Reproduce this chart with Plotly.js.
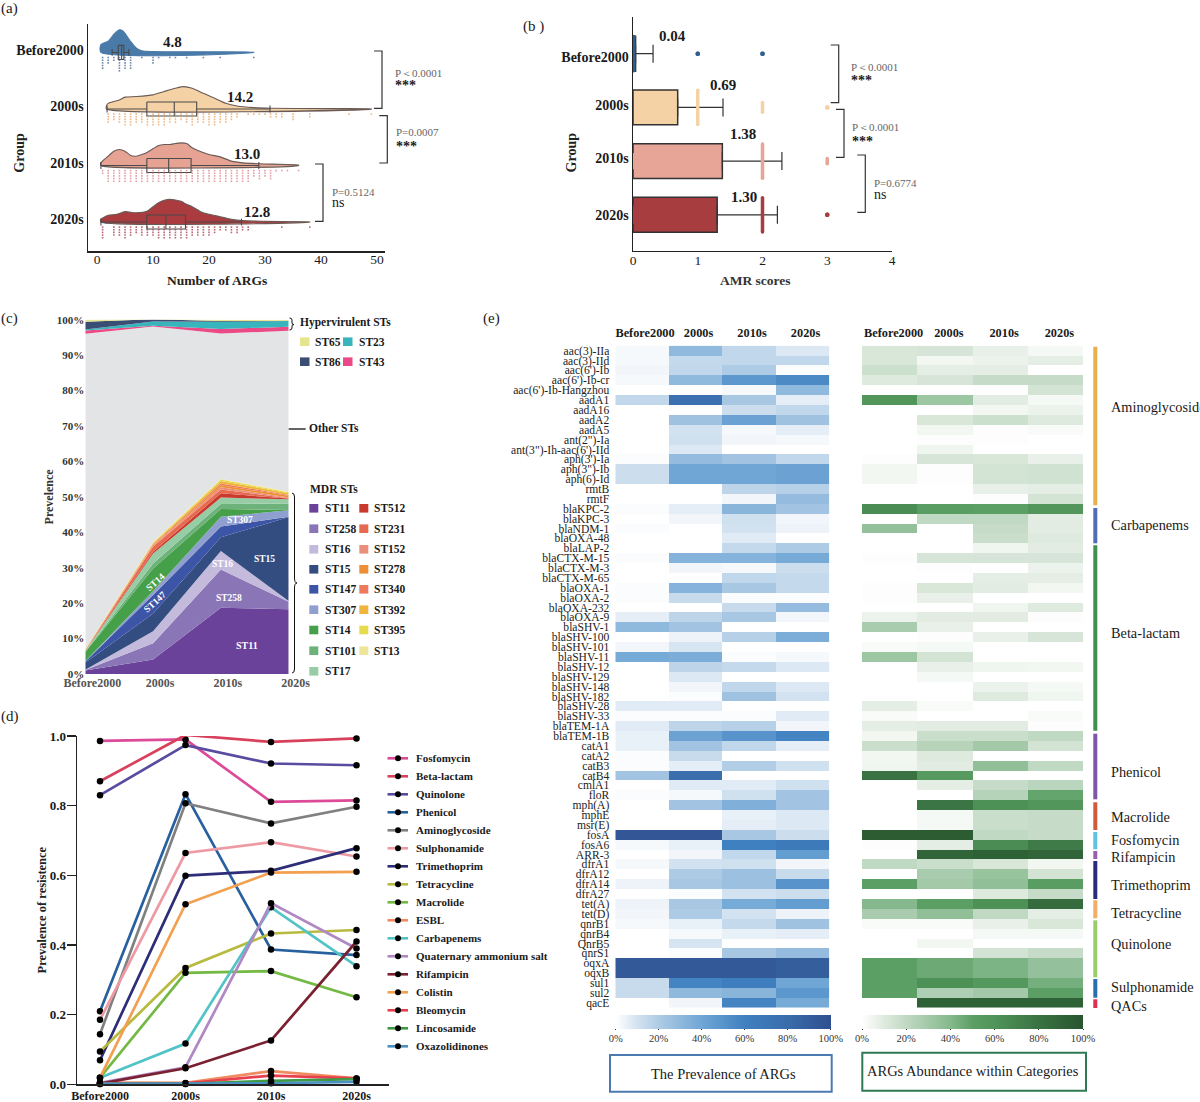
<![CDATA[<!DOCTYPE html>
<html><head><meta charset="utf-8">
<script src="https://cdn.plot.ly/plotly-3.0.1.min.js"></script>
<style>html,body{margin:0;padding:0;background:#fff}</style></head>
<body><div id="chart" style="width:1200px;height:1102px"></div>
<script>
const SERIF = '"Liberation Serif","Times New Roman",serif';
const groups = ['Before2000','2000s','2010s','2020s'];
const groupColors = ['#4a7aa8','#f5d2a6','#e6a393','#aa3b3e'];
const dotColors = ['#3d5f92','#e8a05a','#d9808a','#a5344a'];

// Panel a: density curves
const densX0 = [0.7,2,3,4,4.5,5,6,7,8,10,15,28];
const densH0 = [.14,.2,.32,.40,.39,.34,.195,.08,.03,.015,.012,.005];
const densX1 = [1.7,2,4,5,7,10,12,14,15.5,17,19,21,23,25,28,31,40,49];
const densH1 = [.06,.1,.16,.21,.22,.25,.31,.366,.395,.366,.277,.189,.1,.053,.024,.012,.006,.002];
const densX2 = [0.7,2,3,4,5,6,7,8,9,10,11,12,13,14,15,16,17,18,20,22,24,26,29,36];
const densH2 = [.047,.165,.254,.283,.254,.177,.165,.195,.236,.295,.354,.372,.372,.389,.401,.389,.313,.265,.195,.153,.077,.047,.03,.006];
const densX3 = [0.7,2,3.5,5,7,9,10,11,12,13,14,15,16,17,18.5,20,22,24,26,30,38];
const densH3 = [.047,.118,.136,.183,.165,.195,.271,.342,.384,.401,.389,.366,.313,.271,.183,.136,.094,.047,.024,.012,.002];
// Panel a: box summaries
const boxQ1 = [3.8,8.9,8.9,8.9];
const boxMed = [4.4,13.8,12.8,12.3];
const boxQ3 = [4.8,17.8,16.8,15.8];
const boxLow = [2.7,1.8,0.7,0.7];
const boxHigh = [5.7,30.9,28.9,25.8];
const meanA = ['4.8','14.2','13.0','12.8'];
// Panel a: strip of samples (ARG count, stacked points)
const stripX0 = [1,2,3,4,5,6,8,10,11,13,14,16,19,22,28];
const stripN0 = [5,3,2,6,5,5,1,3,1,1,1,1,1,1,1];
const stripX1 = [2,3,4,5,6,7,8,9,10,11,12,13,14,15,16,17,18,19,20,21,22,23,24,25,27,28,29,30,31,32,33,35,38,45,49];
const stripN1 = [4,3,4,5,5,4,4,5,5,5,5,4,4,3,4,5,4,4,5,5,4,4,3,2,1,1,1,1,2,2,2,3,2,1,1];
const stripX2 = [1,2,3,4,5,6,7,8,9,10,11,12,13,14,15,16,17,18,19,20,21,22,23,24,25,26,27,28,29,30,31,32,33,34,36];
const stripN2 = [2,5,5,5,5,5,5,5,5,5,5,5,5,5,5,5,5,5,5,5,5,5,5,5,5,5,5,3,4,3,4,1,1,1,1];
const stripX3 = [1,3,4,5,6,7,8,9,10,11,12,13,14,15,16,17,18,19,20,21,22,23,24,25,26,27,33,38];
const stripN3 = [5,4,4,5,4,3,4,4,4,5,5,5,5,5,5,4,4,4,4,3,2,2,3,3,2,2,1,1];

// Panel b
const amrMeans = [0.04,0.69,1.38,1.30];
const amrErr = [0.27,0.70,0.92,0.93];
const amrBarColors = ['#2f5f8c','#f5d2a6','#e6a597','#a83d40'];
const outX = [0.01, 1, 2, 1, 2, 3, 2, 3, 2, 3, -0.01, -0.01];
const outGroup = [0, 0, 0, 1, 1, 1, 2, 2, 3, 3, 2, 3];
const outHalf = [.32, 0, 0, .32, .09, 0, .32, .05, .32, 0, .15, .17];

// Panel c
const stNames = ['ST11','ST258','ST16','ST15','ST147','ST307','ST14','ST101','ST17','ST512','ST231','ST152','ST278','ST340','ST392','ST395','ST13','Other STs','ST43','ST23','ST86','ST65'];
const stColors = ['#6a4299','#8a75b6','#c4bbdc','#344d80','#3d55a6','#8f9fcf','#46a04a','#6db27a','#97cda4','#c9392e','#e66a4f','#ea8f7b','#ef8f35','#ec7a5f','#f0b53c','#e6db4d','#eee59a','#e3e4e6','#ec4a86','#38b5bc','#3a4d75','#e6e58f'];
const stValues = [
 [1.0,4.1,18.7,18.3],[0.1,4.6,10.8,2.1],[0.1,3.4,5.2,0.2],[2.0,5.0,3.9,23.7],[0.3,5.2,3.0,0.1],
 [0.1,1.1,2.8,1.8],[2.6,6.4,2.2,0.1],[0.1,1.4,1.4,1.8],[0.2,2.8,1.8,1.2],[0.05,0.5,1.2,0.2],
 [0.1,1.5,1.1,0.1],[0.05,0.3,0.6,0.2],[0.05,0.2,0.6,0.5],[0.05,0.2,0.5,0.2],[0.05,0.2,0.7,0.5],
 [0.05,0.2,0.4,0.3],[0.1,0.2,0.2,0.2],[89.05,60.8,41.0,45.4],[0.9,0.2,1.3,1.1],[0.3,1.2,2.0,1.6],[2.2,0.6,0.2,0.1],[0.6,0.2,0.4,0.3]];

// Panel d
const drugNames = ['Fosfomycin','Beta-lactam','Quinolone','Phenicol','Aminoglycoside','Sulphonamide','Trimethoprim','Tetracycline','Macrolide','ESBL','Carbapenems','Quaternary ammonium salt','Rifampicin','Colistin','Bleomycin','Lincosamide','Oxazolidinones'];
const drugColors = ['#dc4a98','#d8405c','#5a4ba0','#27609f','#808080','#ee9aa5','#2d2d78','#b8bb3f','#74b944','#f08a60','#52c3c6','#b088c4','#7a2030','#f2a050','#e8404f','#3f9a45','#4a90c0'];
const drugValues = [
 [.986,.99,.811,.815],[.87,1.003,.983,.993],[.83,.974,.921,.916],[.21,.833,.387,.371],[.144,.807,.749,.797],
 [.185,.664,.695,.654],[.069,.599,.613,.678],[.094,.334,.433,.443],[.019,.32,.325,.25],[.005,.004,.038,.017],
 [.019,.117,.508,.339],[.004,.049,.52,.39],[.002,.046,.126,.41],[.019,.517,.608,.61],[.003,.003,.025,.017],
 [.001,.001,.01,.015],[.001,.001,.003,.007]];

// Panel e
const genes = ["aac(3)-IIa","aac(3)-IId","aac(6')-Ib","aac(6')-Ib-cr","aac(6')-Ib-Hangzhou","aadA1","aadA16","aadA2","aadA5","ant(2\")-Ia","ant(3\")-Ih-aac(6')-IId","aph(3')-Ia","aph(3\")-Ib","aph(6)-Id","rmtB","rmtF","blaKPC-2","blaKPC-3","blaNDM-1","blaOXA-48","blaLAP-2","blaCTX-M-15","blaCTX-M-3","blaCTX-M-65","blaOXA-1","blaOXA-2","blaOXA-232","blaOXA-9","blaSHV-1","blaSHV-100","blaSHV-101","blaSHV-11","blaSHV-12","blaSHV-129","blaSHV-148","blaSHV-182","blaSHV-28","blaSHV-33","blaTEM-1A","blaTEM-1B","catA1","catA2","catB3","catB4","cmlA1","floR","mph(A)","mphE","msr(E)","fosA","fosA6","ARR-3","dfrA1","dfrA12","dfrA14","dfrA27","tet(A)","tet(D)","qnrB1","qnrB4","QnrB5","qnrS1","oqxA","oqxB","sul1","sul2","qacE"];
const prevalence = [[2,30,15,8],[2,14,15,15],[3,15,20,1],[2,30,48,55],[0,0,2,30],[15,75,22,6],[0,0,12,15],[0,25,42,25],[0,10,2,6],[0,11,3,2],[0,8,0,0],[1,28,24,15],[12,40,40,42],[12,40,40,42],[0,0,16,18],[0,0,3,28],[1,6,32,24],[0,3,11,3],[1,0,10,4],[0,0,7,0],[0,0,14,20],[1,33,33,38],[0,3,2,12],[0,0,15,14],[1,33,22,14],[1,13,1,1],[0,0,13,28],[6,16,22,3],[30,24,0,0],[0,4,18,36],[3,9,0,0],[38,36,1,2],[0,16,14,8],[0,8,0,0],[0,3,15,8],[0,1,25,10],[7,7,0,0],[1,1,1,7],[7,16,18,3],[5,42,50,58],[5,24,15,6],[1,13,0,0],[1,6,19,11],[24,78,0,0],[0,7,7,11],[1,2,11,24],[0,24,35,24],[0,0,5,8],[0,0,6,8],[95,95,22,12],[2,5,60,66],[0,3,15,45],[2,10,11,3],[0,20,26,13],[4,22,26,50],[0,1,10,12],[4,22,38,45],[3,20,10,4],[2,5,14,25],[0,2,5,6],[0,9,0,0],[0,1,22,28],[93,93,93,90],[93,93,93,90],[13,58,62,40],[13,30,32,48],[0,3,58,38]];
const abundance = [[12,13,7,3],[12,4,6,8],[16,8,8,0],[10,13,18,18],[0,0,1,14],[58,32,9,3],[0,0,4,6],[0,12,16,10],[0,4,1,2],[0,1,1,0],[0,5,0,0],[1,13,12,7],[4,1,14,15],[4,1,14,15],[0,0,7,8],[0,0,1,14],[65,52,50,58],[0,20,20,9],[35,0,18,9],[0,0,17,10],[0,0,5,9],[1,13,13,13],[0,1,0,6],[0,0,8,8],[1,12,9,4],[1,7,0,0],[0,0,5,10],[6,9,9,1],[28,7,0,0],[0,1,7,13],[2,3,0,0],[32,14,0,0],[0,7,5,4],[0,3,0,0],[0,0,6,3],[0,0,10,5],[8,2,0,0],[2,0,0,2],[8,9,9,1],[4,17,17,20],[17,23,30,14],[4,10,0,0],[5,9,36,20],[80,55,0,0],[0,8,18,22],[0,0,24,48],[0,78,62,58],[0,3,17,18],[0,3,17,18],[95,95,20,18],[1,8,65,75],[0,90,92,90],[20,17,12,4],[0,28,34,14],[50,30,36,52],[0,0,10,18],[40,50,62,85],[28,36,20,8],[2,2,7,12],[0,0,3,3],[0,4,0,0],[0,0,14,18],[50,46,42,35],[50,46,42,35],[50,62,56,44],[50,26,30,50],[0,92,92,92]];
const blueScale = [[0,'#ffffff'],[.1,'#d3e2f0'],[.2,'#aecbe5'],[.4,'#70a6d5'],[.6,'#3f80c0'],[.8,'#3a6cab'],[1,'#2f4f8f']];
const greenScale = [[0,'#ffffff'],[.1,'#dfeadf'],[.2,'#c0d9c3'],[.4,'#85b98d'],[.5,'#5c9f65'],[.6,'#4f9458'],[.8,'#3a7243'],[1,'#28552e']];
const catNames = ['Aminoglycoside','Carbapenems','Beta-lactam','Phenicol','Macrolide','Fosfomycin','Rifampicin','Trimethoprim','Tetracycline','Quinolone','Sulphonamide','QACs'];
const catColors = ['#e8b04a','#4f6db8','#3f8f4f','#7e57a8','#d15a3a','#5cc3e0','#9a5fb0','#2b2d7c','#f2ad66','#9ccb6a','#2a6fb0','#e0304f'];
const catTop = [346.7,508,545.3,733.7,802.3,832,851,861,900.3,920.3,979,999.3];
const catBottom = [505.3,543.3,730.7,799.3,830,849.3,859,899,918.3,977.3,997.7,1008];
const catLabelY = [406.7,525,633.3,771.7,816.7,840,856.7,885,913.3,944,987.3,1005.7];

const W=1200,H=1102;
const X=p=>p/W, Y=p=>1-p/H;
const shapes=[],annotations=[];
function txt(x,y,text,o={}){const anchor=o.anchor||'left';annotations.push({xref:'paper',yref:'paper',x:X(anchor==='left'?x-1.5:x),y:Y(y),text,showarrow:false,
  xanchor:anchor,yanchor:'middle',textangle:o.angle||0,borderpad:0,
  font:{family:SERIF,size:o.size||12,color:o.color||'#1a1a1a'}});}
function b(t){return '<b>'+t+'</b>';}
function poly(points,color,w){shapes.push({type:'path',xref:'paper',yref:'paper',
  path:'M'+points.map(p=>X(p[0])+','+Y(p[1])).join(' L'),line:{color,width:w||1.2},fillcolor:'rgba(0,0,0,0)'});}
function rawPath(tokens,color,w){shapes.push({type:'path',xref:'paper',yref:'paper',
  path:tokens.map(t=>typeof t==='string'?t:X(t[0])+','+Y(t[1])).join(' '),line:{color,width:w||1},fillcolor:'rgba(0,0,0,0)'});}
function rect(x0,y0,x1,y1,fill,lc,lw){shapes.push({type:'rect',xref:'paper',yref:'paper',x0:X(x0),x1:X(x1),y0:Y(y0),y1:Y(y1),
  fillcolor:fill,line:{color:lc||'rgba(0,0,0,0)',width:lw||0}});}
function bracket(x0,x1,y0,y1){poly([[x0,y0],[x1,y0],[x1,y1],[x0,y1]],'#333',1.2);}

const traces=[];
const axisLine={showline:true,linecolor:'#222',linewidth:1.5,zeroline:false,showgrid:false};
const tickBold=s=>({family:SERIF,size:s,color:'#1a1a1a'});

// ---------- Panel a
const dX=[densX0,densX1,densX2,densX3], dH=[densH0,densH1,densH2,densH3];
const sX=[stripX0,stripX1,stripX2,stripX3], sN=[stripN0,stripN1,stripN2,stripN3];
groups.forEach((g,i)=>{
  const xs=[dX[i][0],...dX[i],dX[i][dX[i].length-1],dX[i][0]];
  const ys=[i,...dH[i].map(h=>i-h),i,i];
  traces.push({type:'scatter',mode:'lines',x:xs,y:ys,xaxis:'x',yaxis:'y',fill:'toself',fillcolor:groupColors[i],
    line:{color:i==0?'#4a7aa8':'#6a5a55',width:1.1,shape:'spline',smoothing:.7},hoverinfo:'skip',showlegend:false});
  const hw=.125,cap=.06;
  const bx=[boxQ1[i],boxQ3[i],boxQ3[i],boxQ1[i],boxQ1[i],null,boxMed[i],boxMed[i],null,boxLow[i],boxQ1[i],null,boxQ3[i],boxHigh[i],null,boxLow[i],boxLow[i],null,boxHigh[i],boxHigh[i]];
  const by=[i-hw,i-hw,i+hw,i+hw,i-hw,null,i-hw,i+hw,null,i,i,null,i,i,null,i-cap,i+cap,null,i-cap,i+cap];
  traces.push({type:'scatter',mode:'lines',x:bx,y:by,xaxis:'x',yaxis:'y',line:{color:'#4a4a4a',width:1.1},hoverinfo:'skip',showlegend:false});
  const px=[],py=[];
  sX[i].forEach((x,k)=>{for(let r=0;r<sN[i][k];r++){px.push(x);py.push(i+.09+r*.047);}});
  traces.push({type:'scatter',mode:'markers',x:px,y:py,xaxis:'x',yaxis:'y',marker:{symbol:'square',size:1.6,color:dotColors[i],opacity:.75},hoverinfo:'skip',showlegend:false});
});
const meanAPos=[[172.7,42.3],[240,96.7],[247,154],[256.7,212]];
meanA.forEach((t,i)=>txt(meanAPos[i][0],meanAPos[i][1],b(t),{anchor:'center',size:15}));
bracket(374,382,51,108.3); txt(395,72.7,'P＜0.0001',{size:11,color:'#666'}); txt(395,86,b('***'),{size:14});
bracket(379.3,387.3,115.7,163); txt(396,132,'P=0.0007',{size:11,color:'#666'}); txt(396,147,b('***'),{size:14});
bracket(315,323,164,221.3); txt(332,192.3,'P=0.5124',{size:11,color:'#666'}); txt(332,202.7,'ns',{size:14});
txt(217,280.7,b('Number of ARGs'),{anchor:'center',size:13.5,color:'#222'});
txt(20,152.7,b('Group'),{anchor:'center',size:14,color:'#222',angle:-90});

// ---------- Panel b
traces.push({type:'bar',orientation:'h',x:amrMeans,y:[0,1,2,3],xaxis:'x2',yaxis:'y2',width:.65,
  marker:{color:amrBarColors,line:{color:'#333',width:1.5}},
  error_x:{type:'data',symmetric:false,array:amrErr,arrayminus:[0,0,0,0],color:'#333',thickness:1.2,width:9},
  hoverinfo:'skip',showlegend:false});
outX.forEach((x,k)=>{
  const g=outGroup[k];
  traces.push({type:'scatter',mode:'lines+markers',x:[x,x],y:[g-outHalf[k],g+outHalf[k]],xaxis:'x2',yaxis:'y2',
    line:{color:amrBarColors[g],width:3.5},marker:{color:amrBarColors[g],size:outHalf[k]?3.5:4.5},hoverinfo:'skip',showlegend:false,cliponaxis:false});
});
const meanBPos=[[672.3,36],[723.3,85],[743.3,134],[744.3,196.7]];
amrMeans.forEach((v,i)=>txt(meanBPos[i][0],meanBPos[i][1],b(v.toFixed(2)),{anchor:'center',size:15}));
bracket(830.7,838.7,45,102.7); txt(851.7,66.7,'P＜0.0001',{size:11,color:'#666'}); txt(851.7,80.5,b('***'),{size:14});
bracket(836,844,109.3,157.3); txt(852.7,126.7,'P＜0.0001',{size:11,color:'#666'}); txt(852.7,141.5,b('***'),{size:14});
bracket(857.3,865.3,155,212.3); txt(874,182.7,'P=0.6774',{size:11,color:'#666'}); txt(874,194,'ns',{size:14});
txt(755,280.7,b('AMR scores'),{anchor:'center',size:13.5,color:'#333'});
txt(571.7,152.7,b('Group'),{anchor:'center',size:14,color:'#222',angle:-90});

// ---------- Panel c
stNames.forEach((n,i)=>traces.push({type:'scatter',mode:'none',x:groups,y:stValues[i],xaxis:'x3',yaxis:'y3',stackgroup:'st',
  fillcolor:stColors[i],name:n,hoverinfo:'skip',showlegend:false}));
const inC=[['ST11',246.7,645,0,10],['ST258',229,597.7,0,9.5],['ST16',222.7,564.3,0,9.5],['ST15',264,559.3,0,9.5],['ST307',240,520.3,0,9.5],['ST147',155,602,-42,9.5],['ST14',155.7,582.3,-42,9.5]];
inC.forEach(a=>txt(a[1],a[2],b(a[0]),{anchor:'center',size:a[4],color:'#ffffff',angle:a[3]}));
txt(300.7,322,b('Hypervirulent STs'),{size:11.5});
const hvCols=[[300,315],[343,359]];
[['ST65',0,341.7],['ST23',1,341.7],['ST86',0,361.7],['ST43',1,361.7]].forEach(e=>{
  const col=hvCols[e[1]];
  rect(col[0],e[2]-4.3,col[0]+9.5,e[2]+4.3,stColors[stNames.indexOf(e[0])]);
  txt(col[1],e[2],b(e[0]),{size:11.5});
});
poly([[288.7,429],[305.7,429]],'#111',1.3); txt(309,428,b('Other STs'),{size:11.5});
txt(310.7,489,b('MDR STs'),{size:11.5});
const mdrL=['ST11','ST258','ST16','ST15','ST147','ST307','ST14','ST101','ST17'];
const mdrR=['ST512','ST231','ST152','ST278','ST340','ST392','ST395','ST13'];
const mdrRowY=[508.3,528.7,549.3,569.3,589.3,609.7,630,650.7,671.3];
mdrL.forEach((n,i)=>{rect(309.3,mdrRowY[i]-4.3,318.3,mdrRowY[i]+4.3,stColors[stNames.indexOf(n)]);txt(325,mdrRowY[i],b(n),{size:11.5});});
mdrR.forEach((n,i)=>{rect(359.3,mdrRowY[i]-4.3,368.3,mdrRowY[i]+4.3,stColors[stNames.indexOf(n)]);txt(374,mdrRowY[i],b(n),{size:11.5});});
rawPath(['M',[292,493],'Q',[294.5,493],[294.5,497],'L',[294.5,578],'Q',[294.5,583],[297,583],'Q',[294.5,583],[294.5,588],'L',[294.5,669],'Q',[294.5,673],[292,673]],'#111',1);
rawPath(['M',[289.5,318],'Q',[292,318],[292,320],'L',[292,323],'Q',[292,324.5],[294,324.5],'Q',[292,324.5],[292,326],'L',[292,328],'Q',[292,330],[289.5,330]],'#111',1);

// ---------- Panel d
drugNames.forEach((n,i)=>traces.push({type:'scatter',mode:'lines+markers',x:[0,1,2,3],y:drugValues[i],xaxis:'x4',yaxis:'y4',name:n,
  line:{color:drugColors[i],width:2.7},marker:{color:'#000',size:6.5},cliponaxis:false,hoverinfo:'skip',showlegend:false}));
drugNames.forEach((n,i)=>{
  const y=758.3+i*18;
  poly([[387.5,y],[408,y]],drugColors[i],2.6);
  shapes.push({type:'circle',xref:'paper',yref:'paper',x0:X(395),x1:X(401),y0:Y(y-3),y1:Y(y+3),fillcolor:'#000',line:{width:0}});
  txt(416,y,b(n),{size:11});
});

// ---------- Panel e
const hmCommon={x:groups,y:genes,zmin:0,zmax:100,xgap:0,ygap:0,hoverinfo:'skip'};
const cbCommon={orientation:'h',lenmode:'pixels',len:215,thicknessmode:'pixels',thickness:14,xanchor:'left',yanchor:'top',xpad:0,ypad:0,outlinewidth:0,
  tickvals:[0,20,40,60,80,100],ticktext:['0%','20%','40%','60%','80%','100%'],ticks:'outside',ticklen:1,tickcolor:'#333',tickfont:{family:SERIF,size:10.5,color:'#333'}};
traces.push({type:'heatmap',...hmCommon,z:prevalence,xaxis:'x5',yaxis:'y5',colorscale:blueScale,
  colorbar:{...cbCommon,x:X(615.7),y:Y(1014.5)}});
traces.push({type:'heatmap',...hmCommon,z:abundance,xaxis:'x6',yaxis:'y6',colorscale:greenScale,
  colorbar:{...cbCommon,len:221,x:X(862),y:Y(1014.5)}});
catNames.forEach((n,i)=>{rect(1093.3,catTop[i],1097.3,catBottom[i],catColors[i]);txt(1111.7,catLabelY[i],n,{size:14.3});});
rect(610,1055,831.7,1091.7,'rgba(0,0,0,0)','#4a7ab0',2);
txt(723,1074,'The Prevalence of ARGs',{anchor:'center',size:14.5});
rect(862.3,1052.7,1086,1090.7,'rgba(0,0,0,0)','#2f7a55',2);
txt(973,1070.7,'ARGs Abundance within Categories',{anchor:'center',size:14.5});

// panel letters
txt(1,8,'(a)',{size:15}); txt(523,26,'(b )',{size:15}); txt(1,318,'(c)',{size:15}); txt(1,716,'(d)',{size:15}); txt(483,318,'(e)',{size:15});

const dom=(a,b,s)=>s==='x'?[a/W,b/W]:[1-b/H,1-a/H];
const layout={width:W,height:H,margin:{l:0,r:0,t:0,b:0},autosize:false,paper_bgcolor:'#fff',plot_bgcolor:'rgba(0,0,0,0)',showlegend:false,
  shapes,annotations,barmode:'overlay',
  xaxis:{...axisLine,domain:dom(88,385,'x'),range:[-1.607,51.43],anchor:'y',tickmode:'array',tickvals:[0,10,20,30,40,50],ticks:'',tickfont:tickBold(13.5),ticklabelstandoff:-5},
  yaxis:{...axisLine,domain:dom(24,251,'y'),range:[3.513,-0.504],anchor:'x',tickmode:'array',tickvals:[-.05,.95,1.95,2.95],ticktext:groups.map(b),ticks:'',tickfont:tickBold(14)},
  xaxis2:{...axisLine,domain:dom(633,892,'x'),range:[0,4],anchor:'y2',tickmode:'array',tickvals:[0,1,2,3,4],ticks:'',tickfont:tickBold(13.5),ticklabelstandoff:-3},
  yaxis2:{...axisLine,domain:dom(17,250.7,'y'),range:[3.668,-0.683],anchor:'x2',tickmode:'array',tickvals:[.067,.955,1.937,3.01],ticktext:groups.map(b),ticks:'',tickfont:tickBold(14)},
  xaxis3:{domain:dom(85.3,288.7,'x'),type:'category',categoryorder:'array',categoryarray:groups,range:[0,3],anchor:'y3',showline:false,showgrid:false,zeroline:false,ticks:'',
    tickmode:'array',tickvals:groups,ticktext:groups.map(b),tickfont:{family:SERIF,size:12,color:'#555'},ticklabelshift:7},
  yaxis3:{domain:dom(319.7,674,'y'),range:[0,100],anchor:'x3',showline:false,showgrid:false,zeroline:false,ticks:'',tickmode:'array',
    tickvals:[0,10,20,30,40,50,60,70,80,90,100],ticktext:[0,10,20,30,40,50,60,70,80,90,100].map(v=>b(v+'%')),tickfont:{family:SERIF,size:11,color:'#333'},
    title:{text:b('Prevelence'),font:{family:SERIF,size:12,color:'#333'},standoff:0}},
  xaxis4:{...axisLine,domain:dom(77,389,'x'),range:[-0.269,3.38],anchor:'y4',ticks:'',tickmode:'array',tickvals:[0,1,2,3],ticktext:groups.map(b),tickfont:tickBold(12)},
  yaxis4:{...axisLine,domain:dom(736,1084.3,'y'),range:[0,1],anchor:'x4',ticks:'outside',ticklen:9,tickwidth:1.3,tickcolor:'#222',tickmode:'array',tickvals:[0,.2,.4,.6,.8,1],ticktext:['0.0','0.2','0.4','0.6','0.8','1.0'].map(b),tickfont:tickBold(13),ticklabelstandoff:-2,
    title:{text:b('Prevalence of resistence'),font:{family:SERIF,size:12.5,color:'#222'},standoff:0}},
  xaxis5:{domain:dom(615.3,829.3,'x'),type:'category',side:'top',anchor:'y5',range:[-.5,3.5],showgrid:false,zeroline:false,ticks:'',tickmode:'array',tickvals:groups,ticktext:groups.map(b),tickfont:tickBold(12.3),ticklabelshift:3,ticklabelstandoff:5},
  yaxis5:{domain:dom(345.7,1007.7,'y'),type:'category',anchor:'x5',range:[66.5,-.5],showgrid:false,zeroline:false,ticks:'',tickmode:'array',tickvals:genes,ticktext:genes,tickfont:{family:SERIF,size:11.6,color:'#222'},ticklabelstandoff:5},
  xaxis6:{domain:dom(862,1083,'x'),type:'category',side:'top',anchor:'y6',range:[-.5,3.5],showgrid:false,zeroline:false,ticks:'',tickmode:'array',tickvals:groups,ticktext:groups.map(b),tickfont:tickBold(12.3),ticklabelshift:4,ticklabelstandoff:5},
  yaxis6:{domain:dom(345.7,1007.7,'y'),type:'category',anchor:'x6',range:[66.5,-.5],showgrid:false,zeroline:false,ticks:'',showticklabels:false}
};
Plotly.newPlot('chart',traces,layout,{displayModeBar:false,responsive:false,staticPlot:true});
</script></body></html>]]>
